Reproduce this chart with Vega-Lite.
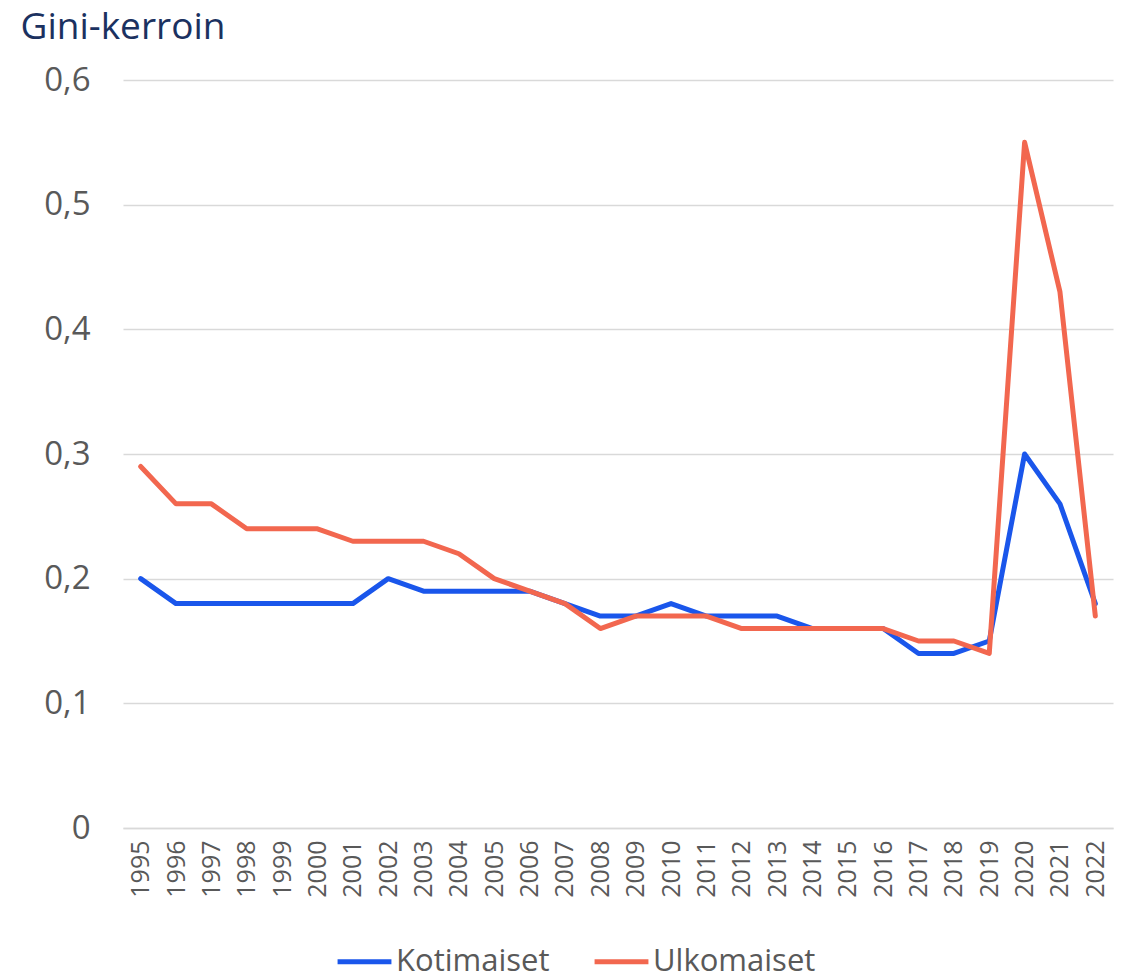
{
  "$schema": "https://vega.github.io/schema/vega-lite/v6.json",
  "autosize": "none",
  "width": 990,
  "height": 748,
  "padding": {"left": 123, "top": 80, "right": 12, "bottom": 149},
  "background": "white",
  "config": {"view": {"stroke": null}, "font": "Open Sans"},
  "data": {"values": [
    {"year": "1995", "series": "Kotimaiset", "gini": 0.20},
    {"year": "1996", "series": "Kotimaiset", "gini": 0.18},
    {"year": "1997", "series": "Kotimaiset", "gini": 0.18},
    {"year": "1998", "series": "Kotimaiset", "gini": 0.18},
    {"year": "1999", "series": "Kotimaiset", "gini": 0.18},
    {"year": "2000", "series": "Kotimaiset", "gini": 0.18},
    {"year": "2001", "series": "Kotimaiset", "gini": 0.18},
    {"year": "2002", "series": "Kotimaiset", "gini": 0.20},
    {"year": "2003", "series": "Kotimaiset", "gini": 0.19},
    {"year": "2004", "series": "Kotimaiset", "gini": 0.19},
    {"year": "2005", "series": "Kotimaiset", "gini": 0.19},
    {"year": "2006", "series": "Kotimaiset", "gini": 0.19},
    {"year": "2007", "series": "Kotimaiset", "gini": 0.18},
    {"year": "2008", "series": "Kotimaiset", "gini": 0.17},
    {"year": "2009", "series": "Kotimaiset", "gini": 0.17},
    {"year": "2010", "series": "Kotimaiset", "gini": 0.18},
    {"year": "2011", "series": "Kotimaiset", "gini": 0.17},
    {"year": "2012", "series": "Kotimaiset", "gini": 0.17},
    {"year": "2013", "series": "Kotimaiset", "gini": 0.17},
    {"year": "2014", "series": "Kotimaiset", "gini": 0.16},
    {"year": "2015", "series": "Kotimaiset", "gini": 0.16},
    {"year": "2016", "series": "Kotimaiset", "gini": 0.16},
    {"year": "2017", "series": "Kotimaiset", "gini": 0.14},
    {"year": "2018", "series": "Kotimaiset", "gini": 0.14},
    {"year": "2019", "series": "Kotimaiset", "gini": 0.15},
    {"year": "2020", "series": "Kotimaiset", "gini": 0.30},
    {"year": "2021", "series": "Kotimaiset", "gini": 0.26},
    {"year": "2022", "series": "Kotimaiset", "gini": 0.18},
    {"year": "1995", "series": "Ulkomaiset", "gini": 0.29},
    {"year": "1996", "series": "Ulkomaiset", "gini": 0.26},
    {"year": "1997", "series": "Ulkomaiset", "gini": 0.26},
    {"year": "1998", "series": "Ulkomaiset", "gini": 0.24},
    {"year": "1999", "series": "Ulkomaiset", "gini": 0.24},
    {"year": "2000", "series": "Ulkomaiset", "gini": 0.24},
    {"year": "2001", "series": "Ulkomaiset", "gini": 0.23},
    {"year": "2002", "series": "Ulkomaiset", "gini": 0.23},
    {"year": "2003", "series": "Ulkomaiset", "gini": 0.23},
    {"year": "2004", "series": "Ulkomaiset", "gini": 0.22},
    {"year": "2005", "series": "Ulkomaiset", "gini": 0.20},
    {"year": "2006", "series": "Ulkomaiset", "gini": 0.19},
    {"year": "2007", "series": "Ulkomaiset", "gini": 0.18},
    {"year": "2008", "series": "Ulkomaiset", "gini": 0.16},
    {"year": "2009", "series": "Ulkomaiset", "gini": 0.17},
    {"year": "2010", "series": "Ulkomaiset", "gini": 0.17},
    {"year": "2011", "series": "Ulkomaiset", "gini": 0.17},
    {"year": "2012", "series": "Ulkomaiset", "gini": 0.16},
    {"year": "2013", "series": "Ulkomaiset", "gini": 0.16},
    {"year": "2014", "series": "Ulkomaiset", "gini": 0.16},
    {"year": "2015", "series": "Ulkomaiset", "gini": 0.16},
    {"year": "2016", "series": "Ulkomaiset", "gini": 0.16},
    {"year": "2017", "series": "Ulkomaiset", "gini": 0.15},
    {"year": "2018", "series": "Ulkomaiset", "gini": 0.15},
    {"year": "2019", "series": "Ulkomaiset", "gini": 0.14},
    {"year": "2020", "series": "Ulkomaiset", "gini": 0.55},
    {"year": "2021", "series": "Ulkomaiset", "gini": 0.43},
    {"year": "2022", "series": "Ulkomaiset", "gini": 0.17}
  ]},
  "mark": {"type": "line", "strokeWidth": 5, "strokeJoin": "round", "strokeCap": "round"},
  "encoding": {
    "x": {
      "field": "year", "type": "ordinal",
      "scale": {"type": "point", "padding": 0.5},
      "axis": {
        "title": null, "labelAngle": -90, "labelFontSize": 25, "labelColor": "#595959",
        "labelPadding": 12, "ticks": false, "domain": true, "domainColor": "#d9d9d9", "domainWidth": 1.5, "grid": false
      }
    },
    "y": {
      "field": "gini", "type": "quantitative",
      "scale": {"domain": [0, 0.6], "nice": false},
      "axis": {
        "values": [0, 0.1, 0.2, 0.3, 0.4, 0.5, 0.6],
        "labelExpr": "datum.value == 0 ? '0' : replace(format(datum.value, '.1f'), '.', ',')",
        "labelFontSize": 33, "labelColor": "#595959", "labelPadding": 33,
        "ticks": false, "domain": false, "grid": true, "gridColor": "#d9d9d9", "gridWidth": 1.5,
        "title": "Gini-kerroin", "titleAngle": 0, "titleAlign": "left", "titleBaseline": "alphabetic",
        "titleX": -103, "titleY": -42, "titleFontSize": 37, "titleFontWeight": "normal", "titleColor": "#1b3160"
      }
    },
    "color": {
      "field": "series", "type": "nominal",
      "scale": {"domain": ["Kotimaiset", "Ulkomaiset"], "range": ["#1a56eb", "#f2674f"]},
      "legend": {
        "title": null, "orient": "none", "direction": "horizontal",
        "legendX": 212, "legendY": 852,
        "symbolType": "stroke", "symbolSize": 2900, "symbolStrokeWidth": 5,
        "labelFontSize": 31, "labelColor": "#595959", "labelOffset": 2, "labelLimit": 400, "columnPadding": 34
      }
    }
  }
}
